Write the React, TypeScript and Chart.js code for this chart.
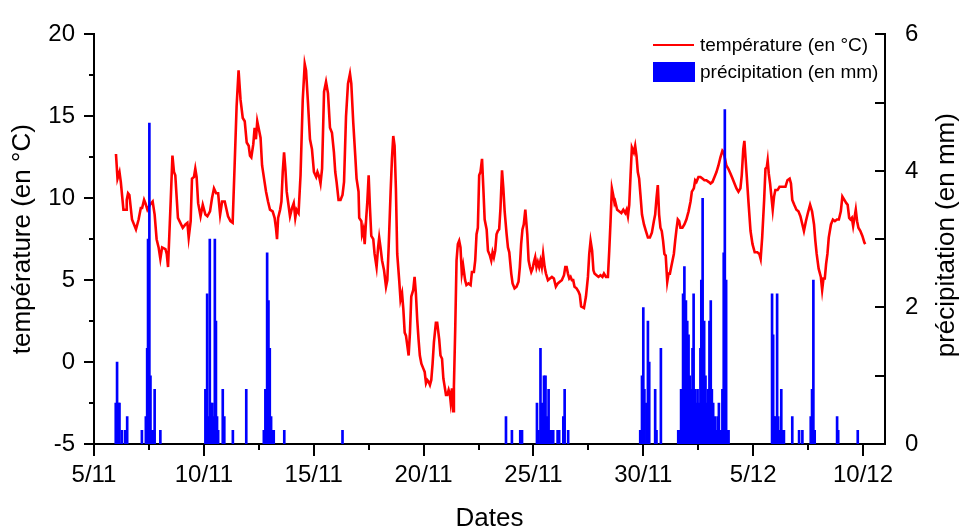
import React, { useEffect, useRef } from 'react';
import { Chart, registerables } from 'chart.js';

Chart.register(...registerables);

const FONT = '"Liberation Sans", Arial, Helvetica, sans-serif';

// x axis: days after 5/11
const xTickValues = [0, 5, 10, 15, 20, 25, 30, 35];
const xTickLabels = ['5/11', '10/11', '15/11', '20/11', '25/11', '30/11', '5/12', '10/12'];
const xMinorTicks = [2.5, 7.5, 12.5, 17.5, 22.5, 27.5, 32.5];
const yTickValues = [-5, 0, 5, 10, 15, 20];
const yMinorTicks = [-2.5, 2.5, 7.5, 12.5, 17.5];
const y2TickValues = [0, 2, 4, 6];
const y2MinorTicks = [1, 3, 5];

const tempLabel = 'température (en °C)';
const precipLabel = 'précipitation (en mm)';

const tempDays = [
  1.00, 1.07, 1.16, 1.22, 1.34, 1.46, 1.49, 1.55, 1.61, 1.73, 1.91, 2.03, 2.13, 2.19, 2.28, 2.34, 2.43, 2.55, 2.67, 2.76,
  2.85, 2.94, 3.02, 3.10, 3.25, 3.31, 3.37, 3.43, 3.49, 3.57, 3.64, 3.70, 3.82, 4.04, 4.16, 4.25, 4.31, 4.40, 4.46, 4.55,
  4.61, 4.67, 4.74, 4.85, 4.95, 5.07, 5.16, 5.28, 5.37, 5.46, 5.56, 5.65, 5.74, 5.83, 5.95, 6.10, 6.21, 6.31, 6.40, 6.49,
  6.58, 6.67, 6.77, 6.86, 6.95, 7.04, 7.10, 7.16, 7.25, 7.31, 7.37, 7.43, 7.49, 7.58, 7.65, 7.74, 7.83, 7.92, 8.01, 8.13,
  8.22, 8.28, 8.33, 8.38, 8.47, 8.53, 8.59, 8.65, 8.71, 8.77, 8.83, 8.92, 9.01, 9.09, 9.16, 9.22, 9.31, 9.40, 9.50, 9.59,
  9.65, 9.74, 9.83, 9.92, 10.01, 10.11, 10.17, 10.25, 10.31, 10.38, 10.47, 10.56, 10.65, 10.74, 10.83, 10.92, 10.98, 11.04, 11.13, 11.22,
  11.31, 11.38, 11.47, 11.56, 11.65, 11.71, 11.80, 11.89, 11.95, 12.04, 12.07, 12.17, 12.20, 12.26, 12.32, 12.38, 12.44, 12.50, 12.56, 12.62,
  12.71, 12.77, 12.86, 12.93, 12.98, 13.04, 13.11, 13.20, 13.29, 13.35, 13.41, 13.50, 13.56, 13.62, 13.68, 13.74, 13.80, 13.89, 13.95, 14.02,
  14.08, 14.14, 14.20, 14.26, 14.32, 14.38, 14.44, 14.53, 14.59, 14.65, 14.71, 14.77, 14.83, 14.90, 14.99, 15.05, 15.11, 15.17, 15.23, 15.29,
  15.35, 15.41, 15.47, 15.56, 15.62, 15.71, 15.77, 15.84, 15.90, 15.96, 16.02, 16.08, 16.14, 16.20, 16.23, 16.29, 16.34, 16.38, 16.44, 16.50,
  16.56, 16.62, 16.68, 16.74, 16.80, 16.89, 16.95, 17.04, 17.14, 17.20, 17.29, 17.35, 17.41, 17.47, 17.53, 17.59, 17.66, 17.72, 17.78, 17.87,
  17.93, 18.02, 18.08, 18.14, 18.20, 18.26, 18.32, 18.38, 18.44, 18.50, 18.57, 18.63, 18.69, 18.78, 18.84, 18.90, 18.99, 19.05, 19.14, 19.23,
  19.32, 19.38, 19.44, 19.50, 19.56, 19.63, 19.66, 19.72, 19.78, 19.84, 19.90, 19.96, 20.02, 20.08, 20.14, 20.20, 20.26, 20.32, 20.38, 20.44,
  20.51, 20.57, 20.66, 20.75, 20.84, 20.93, 21.02, 21.11, 21.20, 21.29, 21.39, 21.45, 21.51, 21.57, 21.63, 21.69, 21.75, 21.81, 21.87, 21.96,
  22.05, 22.11, 22.17, 22.30, 22.39, 22.48, 22.54, 22.60, 22.67, 22.73, 22.78, 22.87, 22.96, 23.05, 23.14, 23.21, 23.30, 23.39, 23.45, 23.51,
  23.57, 23.63, 23.69, 23.72, 23.81, 23.90, 24.00, 24.09, 24.18, 24.24, 24.30, 24.36, 24.42, 24.48, 24.57, 24.63, 24.69, 24.75, 24.81, 24.87,
  24.94, 25.03, 25.12, 25.21, 25.30, 25.39, 25.48, 25.54, 25.60, 25.66, 25.72, 25.78, 25.84, 25.90, 25.96, 26.02, 26.05, 26.09, 26.15, 26.21,
  26.27, 26.33, 26.39, 26.45, 26.51, 26.57, 26.63, 26.69, 26.78, 26.87, 26.96, 27.06, 27.15, 27.21, 27.30, 27.36, 27.42, 27.51, 27.60, 27.69,
  27.78, 27.87, 27.97, 28.06, 28.15, 28.24, 28.33, 28.42, 28.51, 28.60, 28.66, 28.72, 28.78, 28.87, 28.97, 29.06, 29.15, 29.24, 29.33, 29.42,
  29.48, 29.55, 29.60, 29.70, 29.79, 29.88, 29.97, 30.07, 30.19, 30.28, 30.34, 30.41, 30.50, 30.56, 30.62, 30.66, 30.71, 30.77, 30.83, 30.89,
  30.95, 31.01, 31.11, 31.20, 31.29, 31.38, 31.47, 31.56, 31.66, 31.72, 31.78, 31.87, 31.97, 32.06, 32.15, 32.24, 32.31, 32.40, 32.49, 32.59,
  32.68, 32.77, 32.83, 32.89, 32.98, 33.08, 33.14, 33.20, 33.26, 33.32, 33.38, 33.44, 33.54, 33.63, 33.72, 33.81, 33.90, 33.99, 34.06, 34.15,
  34.24, 34.30, 34.37, 34.43, 34.49, 34.55, 34.61, 34.67, 34.73, 34.79, 34.88, 34.97, 35.06, 35.10,
];

const tempValues = [
  12.7, 11.2, 11.6, 11.0, 9.3, 9.3, 9.9, 10.3, 10.2, 8.7, 8.1, 8.7, 9.4, 9.4, 9.9, 9.7, 9.3, 9.6, 9.8, 9.0,
  7.5, 7.0, 6.3, 7.0, 6.9, 6.6, 5.8, 7.8, 9.8, 12.6, 11.6, 11.4, 8.8, 8.2, 8.4, 8.5, 7.6, 8.6, 11.2, 11.3,
  11.8, 11.3, 9.7, 8.9, 9.6, 9.0, 8.9, 9.2, 10.0, 10.6, 10.3, 10.3, 9.0, 9.8, 9.8, 8.9, 8.6, 8.5, 12.0, 15.6,
  17.8, 16.0, 14.9, 14.7, 13.4, 13.2, 12.6, 12.5, 13.3, 14.3, 13.6, 14.7, 14.3, 13.7, 12.0, 11.2, 10.4, 9.8, 9.3, 9.2,
  8.8, 8.2, 7.5, 8.8, 9.3, 9.8, 11.6, 12.8, 11.8, 10.4, 9.8, 8.9, 9.4, 9.7, 8.8, 9.3, 9.1, 11.4, 16.0, 18.2,
  17.8, 15.8, 13.6, 13.0, 11.6, 11.3, 11.6, 11.3, 10.9, 11.8, 16.5, 17.1, 16.4, 14.3, 14.0, 12.8, 11.6, 11.0, 9.9, 9.9,
  10.2, 11.0, 15.0, 17.0, 17.6, 17.0, 14.6, 12.6, 11.2, 10.4, 8.8, 8.6, 7.8, 8.1, 7.2, 8.6, 9.8, 11.4, 9.4, 7.7,
  7.5, 6.6, 5.8, 7.0, 7.6, 7.0, 6.2, 5.6, 4.6, 5.0, 7.0, 10.4, 12.4, 13.8, 13.2, 10.6, 6.6, 5.0, 3.8, 4.2,
  3.2, 1.8, 1.6, 1.0, 0.4, 1.8, 4.0, 4.4, 5.2, 4.2, 2.6, 1.4, 0.4, -0.1, -0.4, -0.6, -1.3, -1.1, -1.2, -1.4,
  -1.1, -0.1, 1.2, 2.4, 2.4, 1.4, 0.4, 0.2, -1.0, -1.5, -2.0, -2.0, -1.7, -2.0, -2.4, -1.6, -3.0, -1.5, 2.0, 6.2,
  7.2, 7.4, 7.0, 5.4, 5.9, 5.0, 4.7, 4.8, 4.7, 5.5, 5.5, 6.2, 7.8, 8.2, 11.4, 11.6, 12.4, 10.6, 8.7, 8.1,
  6.8, 6.5, 6.2, 6.7, 6.4, 6.8, 7.8, 8.0, 8.1, 9.4, 11.7, 10.6, 9.2, 7.8, 7.0, 6.7, 5.4, 4.8, 4.5, 4.6,
  4.9, 5.8, 7.2, 8.1, 8.4, 9.3, 9.3, 7.8, 6.2, 5.8, 5.5, 5.7, 6.1, 6.4, 5.8, 6.1, 5.8, 6.2, 5.8, 6.6,
  5.8, 5.4, 5.0, 5.1, 5.2, 5.1, 4.6, 4.8, 4.9, 5.0, 5.3, 5.8, 5.8, 5.4, 5.1, 5.2, 5.0, 5.0, 4.6, 4.5,
  4.3, 4.1, 3.4, 3.3, 4.0, 5.2, 6.6, 7.4, 6.8, 5.6, 5.4, 5.3, 5.2, 5.3, 5.2, 5.4, 5.2, 5.2, 6.8, 8.6,
  10.6, 10.2, 9.7, 9.8, 9.3, 9.2, 9.1, 9.3, 9.1, 9.3, 8.9, 9.6, 11.4, 13.1, 12.8, 13.2, 12.6, 11.6, 11.2, 10.2,
  9.0, 8.4, 8.0, 7.6, 7.6, 7.9, 8.6, 9.0, 10.0, 10.8, 9.0, 8.2, 8.0, 7.4, 6.6, 6.5, 5.8, 4.9, 5.4, 5.4,
  5.8, 6.2, 6.6, 7.4, 8.1, 8.7, 8.6, 8.2, 8.2, 8.4, 8.7, 9.2, 9.8, 10.4, 10.6, 11.1, 11.0, 11.3, 11.3, 11.2,
  11.1, 11.1, 11.0, 10.9, 11.0, 11.3, 11.6, 12.0, 12.5, 12.9, 12.8, 12.4, 12.0, 11.8, 11.5, 11.2, 10.9, 10.6, 10.4, 10.6,
  11.4, 13.0, 13.5, 11.5, 9.7, 8.0, 7.2, 6.7, 6.7, 6.6, 6.3, 7.6, 9.9, 11.8, 11.9, 12.3, 11.5, 10.9, 10.1, 9.3,
  10.1, 10.5, 10.5, 10.7, 10.7, 10.7, 10.7, 11.1, 11.2, 10.9, 9.9, 9.6, 9.3, 9.2, 8.9, 8.4, 8.0, 8.6, 9.1, 9.6,
  9.2, 8.4, 7.4, 6.6, 5.7, 5.2, 4.4, 5.1, 5.1, 6.0, 6.6, 7.6, 8.4, 8.7, 8.6, 8.7, 8.7, 9.2, 10.1, 9.9,
  9.7, 9.6, 8.8, 8.7, 8.8, 8.3, 8.8, 9.3, 8.6, 8.2, 8.0, 7.7, 7.3, 7.2,
];

const precipDays = [
  0.99, 1.05, 1.12, 1.16, 1.27, 1.42, 1.51, 2.18, 2.36, 2.42, 2.46, 2.52, 2.57, 2.62, 2.68, 2.76, 3.02,
  5.07, 5.15, 5.18, 5.22, 5.27, 5.33, 5.39, 5.45, 5.50, 5.55, 5.60, 5.65, 5.86, 5.93, 6.32, 6.93,
  7.73, 7.80, 7.88, 7.94, 8.00, 8.06, 8.12, 8.18, 8.66, 11.31,
  18.75, 19.02, 19.40, 19.48, 20.16, 20.23, 20.32, 20.39, 20.45, 20.48, 20.55, 20.61, 20.69, 20.74, 20.83, 20.90, 21.10, 21.17, 21.36, 21.42, 21.58,
  24.86, 24.94, 25.00, 25.05, 25.14, 25.21, 25.27, 25.54, 25.60, 25.80,
  26.59, 26.66, 26.72, 26.81, 26.87, 26.94, 27.00, 27.06, 27.12, 27.18,
  27.24, 27.29, 27.36, 27.42, 27.47, 27.54, 27.60, 27.64, 27.70, 27.77,
  27.83, 27.88, 27.94, 28.01, 28.07, 28.12, 28.18, 28.25, 28.31, 28.38,
  28.44, 28.50, 28.54, 28.60, 28.66, 28.71, 28.77, 28.83, 28.88,
  30.86, 30.91, 30.95, 31.01, 31.09, 31.14, 31.20, 31.28, 31.34, 31.40, 31.78, 32.09, 32.24, 32.62, 32.68, 32.74, 32.80, 33.82, 33.87, 34.76,
];

const precipValues = [
  0.6, 1.2, 0.6, 0.6, 0.2, 0.2, 0.4, 0.2, 0.4, 1.4, 3.0, 4.7, 1.0, 0.2, 0.2, 0.8, 0.2,
  0.8, 2.2, 0.2, 0.4, 3.0, 0.6, 0.6, 0.4, 3.0, 1.8, 0.4, 0.2, 0.8, 0.4, 0.2, 0.8,
  0.2, 0.8, 2.8, 2.1, 1.4, 0.4, 0.2, 0.2, 0.2, 0.2,
  0.4, 0.2, 0.2, 0.2, 0.6, 0.2, 1.4, 0.6, 0.4, 1.0, 1.0, 0.4, 0.8, 0.2, 0.2, 0.2, 0.2, 0.2, 0.4, 0.8, 0.2,
  0.2, 1.0, 2.0, 0.8, 0.6, 1.8, 1.2, 0.8, 0.2, 1.4,
  0.2, 0.2, 0.8, 2.2, 2.6, 2.1, 1.8, 1.6, 1.0, 0.8,
  1.4, 2.2, 0.8, 0.6, 0.8, 0.6, 1.4, 2.4, 3.6, 1.8,
  1.0, 0.6, 0.8, 1.8, 2.1, 0.8, 0.6, 0.4, 0.2, 0.4,
  0.6, 0.2, 0.2, 0.8, 2.8, 4.9, 2.4, 0.2, 0.2,
  2.2, 1.6, 0.4, 0.4, 2.2, 0.4, 0.2, 0.8, 0.2, 0.2, 0.4, 0.2, 0.2, 0.4, 0.8, 2.4, 0.2, 0.4, 0.2, 0.2,
];

const decorPlugin = {
  id: 'decor',
  afterDraw(chart: any) {
    const ctx = chart.ctx;
    const { left, right, top, bottom } = chart.chartArea;
    const xs = chart.scales.x;
    const ys = chart.scales.y;
    const y2s = chart.scales.y2;
    ctx.save();
    ctx.strokeStyle = '#000';
    ctx.lineWidth = 2;
    ctx.beginPath();
    xTickValues.forEach((v) => {
      const p = Math.round(xs.getPixelForValue(v));
      ctx.moveTo(p, bottom); ctx.lineTo(p, bottom + 12);
    });
    xMinorTicks.forEach((v) => {
      const p = Math.round(xs.getPixelForValue(v));
      ctx.moveTo(p, bottom); ctx.lineTo(p, bottom + 6);
    });
    yTickValues.forEach((v) => {
      const p = Math.round(ys.getPixelForValue(v));
      ctx.moveTo(left, p); ctx.lineTo(left - 10, p);
    });
    yMinorTicks.forEach((v) => {
      const p = Math.round(ys.getPixelForValue(v));
      ctx.moveTo(left, p); ctx.lineTo(left - 5, p);
    });
    y2TickValues.concat(y2MinorTicks).forEach((v) => {
      const p = Math.round(y2s.getPixelForValue(v));
      ctx.moveTo(right, p); ctx.lineTo(right - 10, p);
    });
    ctx.stroke();

    // right axis title (reads bottom to top)
    ctx.fillStyle = '#000';
    ctx.font = `26px ${FONT}`;
    ctx.textAlign = 'center';
    ctx.textBaseline = 'middle';
    ctx.save();
    ctx.translate(947, (top + bottom) / 2 - 4);
    ctx.rotate(-Math.PI / 2);
    ctx.fillText(precipLabel, 0, 0);
    ctx.restore();

    // legend
    const ds = chart.data.datasets;
    ctx.font = `19px ${FONT}`;
    ctx.textAlign = 'left';
    ctx.strokeStyle = ds[1].borderColor;
    ctx.lineWidth = 2;
    ctx.beginPath();
    ctx.moveTo(653, 45); ctx.lineTo(694, 45);
    ctx.stroke();
    ctx.fillText(ds[1].label, 700, 46);
    ctx.fillStyle = ds[0].backgroundColor;
    ctx.fillRect(653, 62, 42, 20);
    ctx.fillStyle = '#000';
    ctx.fillText(ds[0].label, 700, 73);
    ctx.restore();
  },
};

export default function App() {
  const canvasRef = useRef<HTMLCanvasElement | null>(null);

  useEffect(() => {
    const canvas = canvasRef.current;
    if (!canvas) return;
    Chart.defaults.color = '#000';
    Chart.defaults.font.family = FONT;

    const tempData = tempDays.map((d, i) => ({ x: d, y: tempValues[i] }));
    const precipData = precipDays.map((d, i) => ({ x: d, y: precipValues[i] }));

    const chart = new Chart(canvas, {
      type: 'line',
      data: {
        datasets: [
          {
            type: 'bar',
            label: precipLabel,
            data: precipData as any,
            yAxisID: 'y2',
            xAxisID: 'x',
            backgroundColor: '#0000ff',
            borderWidth: 0,
            barThickness: 2,
            order: 0,
          } as any,
          {
            type: 'line',
            label: tempLabel,
            data: tempData as any,
            yAxisID: 'y',
            xAxisID: 'x',
            borderColor: '#ff0000',
            borderWidth: 2.6,
            pointRadius: 0,
            tension: 0,
            fill: false,
            order: 1,
          } as any,
        ],
      },
      options: {
        responsive: false,
        animation: false,
        events: [],
        layout: { padding: { top: 28, left: 0, right: 0, bottom: 0 } },
        plugins: {
          legend: { display: false },
          tooltip: { enabled: false },
        },
        scales: {
          x: {
            type: 'linear',
            position: 'bottom',
            min: 0,
            max: 36,
            offset: false,
            grid: { display: false, drawTicks: false },
            border: { display: true, color: '#000', width: 2 },
            afterBuildTicks: (s: any) => { s.ticks = xTickValues.map((v) => ({ value: v })); },
            ticks: {
              autoSkip: false,
              maxRotation: 0,
              padding: 17,
              font: { size: 24, family: FONT },
              color: '#000',
              callback: (v: any) => {
                const i = xTickValues.indexOf(Number(v));
                return i >= 0 ? xTickLabels[i] : '';
              },
            },
            title: {
              display: true,
              text: 'Dates',
              color: '#000',
              font: { size: 26, family: FONT, lineHeight: '22px' },
              padding: { top: 0, bottom: 0 },
            },
            afterFit: (s: any) => { s.height = 86; },
          } as any,
          y: {
            type: 'linear',
            position: 'left',
            min: -5,
            max: 20,
            grid: { display: false, drawTicks: false },
            border: { display: true, color: '#000', width: 2 },
            afterBuildTicks: (s: any) => { s.ticks = yTickValues.map((v) => ({ value: v })); },
            ticks: {
              padding: 19,
              font: { size: 24, family: FONT },
              color: '#000',
              callback: (v: any) => String(v),
            },
            title: {
              display: true,
              text: tempLabel,
              color: '#000',
              font: { size: 26, family: FONT, lineHeight: 1 },
              padding: { top: 10, bottom: 0 },
            },
            afterFit: (s: any) => { s.width = 94; },
          } as any,
          y2: {
            type: 'linear',
            position: 'right',
            min: 0,
            max: 6,
            grid: { display: false, drawTicks: false },
            border: { display: true, color: '#000', width: 2 },
            afterBuildTicks: (s: any) => { s.ticks = y2TickValues.map((v) => ({ value: v })); },
            ticks: {
              padding: 20,
              font: { size: 24, family: FONT },
              color: '#000',
              callback: (v: any) => String(v),
            },
            afterFit: (s: any) => { s.width = 74; },
          } as any,
        },
      },
      plugins: [decorPlugin],
    });

    return () => chart.destroy();
  }, []);

  return (
    <div style={{ position: 'absolute', left: 0, top: 0, width: 959, height: 530, background: '#fff' }}>
      <canvas ref={canvasRef} width={959} height={530} style={{ display: 'block' }} />
    </div>
  );
}
